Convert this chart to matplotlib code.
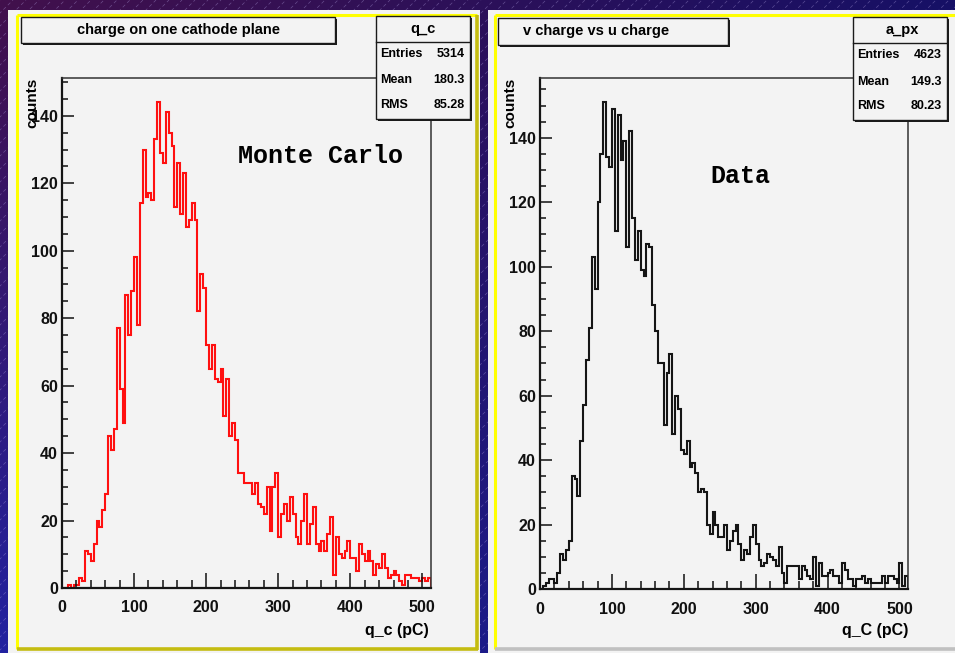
import matplotlib
matplotlib.use("Agg")
import matplotlib.pyplot as plt
import matplotlib.colors as mcolors
import numpy as np
from matplotlib.patches import Rectangle

# ---- values (128 bins over 0-512 pC) ----
bin_edges = np.linspace(0, 512, 129)

mc_counts = [0, 0, 1, 0, 1, 1, 3, 2, 11, 10,
             8, 13, 20, 18, 23, 28, 45, 41, 47, 77,
             59, 49, 87, 75, 88, 98, 78, 114, 130, 116,
             117, 115, 133, 144, 129, 126, 141, 135, 131, 113,
             126, 111, 123, 107, 109, 114, 109, 82, 93, 89,
             72, 65, 72, 62, 61, 65, 51, 62, 45, 49,
             44, 34, 34, 31, 31, 31, 28, 31, 25, 24,
             22, 30, 17, 30, 34, 15, 22, 25, 20, 27,
             22, 15, 13, 20, 28, 13, 19, 24, 13, 11,
             14, 11, 16, 21, 4, 15, 10, 9, 11, 14,
             9, 9, 5, 13, 10, 8, 11, 8, 4, 7,
             6, 10, 6, 3, 4, 5, 4, 2, 1, 4,
             4, 3, 3, 3, 2, 3, 2, 3]

data_counts = [0, 1, 2, 3, 3, 2, 5, 11, 9, 12,
               15, 35, 34, 29, 46, 57, 71, 81, 103, 93,
               120, 135, 151, 134, 131, 149, 111, 147, 133, 139,
               106, 142, 115, 102, 111, 99, 97, 107, 106, 88,
               80, 70, 70, 51, 67, 73, 48, 60, 56, 43,
               42, 46, 38, 39, 36, 30, 31, 30, 20, 17,
               24, 20, 16, 16, 20, 12, 15, 18, 20, 14,
               9, 12, 11, 16, 20, 14, 9, 7, 8, 11,
               10, 9, 7, 13, 5, 2, 7, 7, 7, 7,
               3, 7, 6, 4, 3, 10, 1, 8, 4, 4,
               5, 6, 4, 4, 2, 8, 6, 3, 3, 1,
               3, 3, 4, 2, 3, 2, 2, 2, 2, 4,
               2, 4, 4, 3, 2, 8, 1, 4]

x_ticks = [0, 100, 200, 300, 400, 500]
y_ticks = [0, 20, 40, 60, 80, 100, 120, 140]

titles = ["charge on one cathode plane", "v charge vs u charge"]
hist_names = ["q_c", "a_px"]
stat_labels = ["Entries", "Mean", "RMS"]
mc_stats = ["5314", "180.3", "85.28"]
data_stats = ["4623", "149.3", "80.23"]
x_labels = ["q_c (pC)", "q_C (pC)"]
tags = ["Monte Carlo", "Data"]

plt.rcParams['font.family'] = ['Liberation Sans', 'DejaVu Sans']
plt.rcParams['font.weight'] = 'bold'

W, H = 955, 653
fig = plt.figure(figsize=(W / 100, H / 100), dpi=100)
panel_fill = '#f3f3f3'

# background: gradient + diagonal hatch
bg = fig.add_axes([0, 0, 1, 1])
corners = [mcolors.to_rgb(c) for c in ['#42104c', '#161066', '#2222a0', '#151472']]
u = np.linspace(0, 1, 200)[None, :, None]
v = np.linspace(0, 1, 140)[:, None, None]
grad = (np.array(corners[0]) * (1 - u) * (1 - v) + np.array(corners[1]) * u * (1 - v)
        + np.array(corners[2]) * (1 - u) * v + np.array(corners[3]) * u * v)
bg.imshow(grad, extent=[0, W, H, 0], aspect='auto', interpolation='bilinear', zorder=0)
for c in np.arange(-H, W, 13):
    bg.plot([c, c + H], [H, 0], color='#b8a8e8', lw=0.5, alpha=0.4, dashes=(5, 4), zorder=1)
bg.set_xlim(0, W)
bg.set_ylim(H, 0)
bg.axis('off')

# left pad
bg.add_patch(Rectangle((8, 10), 472, 650, fc=panel_fill, ec='none', zorder=3))
bg.plot([17, 17], [649, 15], color='#ffff00', lw=2.2, solid_capstyle='butt', zorder=4)
bg.plot([17, 477], [15, 15], color='#ffff00', lw=2.2, solid_capstyle='butt', zorder=4)
bg.plot([477, 477], [15, 650], color='#c4bc10', lw=2.6, solid_capstyle='butt', zorder=4)
bg.plot([17, 478], [649, 649], color='#c4bc10', lw=2.6, solid_capstyle='butt', zorder=4)
# right pad
bg.add_patch(Rectangle((488, 10), 470, 650, fc=panel_fill, ec='none', zorder=3))
bg.plot([495, 495], [649, 15], color='#ffff00', lw=2.2, solid_capstyle='butt', zorder=4)
bg.plot([495, 955], [15, 15], color='#ffff00', lw=2.2, solid_capstyle='butt', zorder=4)
bg.plot([495, 955], [649, 649], color='#c0c0c0', lw=2.6, solid_capstyle='butt', zorder=4)


def hist_panel(rect, counts, color):
    ax = fig.add_axes(rect)
    ax.set_facecolor('none')
    ax.stairs(counts, bin_edges, color=color, lw=1.5)
    ymax = 1.05 * max(counts)
    ax.set_xlim(0, 512)
    ax.set_ylim(0, ymax)
    ax.set_xticks(x_ticks)
    ax.set_xticks(np.arange(0, 512, 20), minor=True)
    ax.set_yticks(y_ticks)
    ax.set_yticks(np.arange(0, ymax, 5), minor=True)
    ax.tick_params(axis='x', which='major', direction='in', length=10.5, width=1.1,
                   pad=9, labelsize=11.5, colors='#111111')
    ax.tick_params(axis='x', which='minor', direction='in', length=5.5, width=1.1, colors='#111111')
    ax.tick_params(axis='y', which='major', direction='in', length=8.5, width=1.1,
                   pad=3, labelsize=11.5, colors='#111111')
    ax.tick_params(axis='y', which='minor', direction='in', length=4.3, width=1.1, colors='#111111')
    for side in ['left', 'bottom']:
        ax.spines[side].set_linewidth(1.6)
        ax.spines[side].set_color('#151515')
    for side in ['top', 'right']:
        ax.spines[side].set_linewidth(1.1)
        ax.spines[side].set_color('#333333')
    return ax


hist_panel([62 / W, 1 - 588 / H, 369 / W, 510 / H], mc_counts, '#ff1010')
hist_panel([540 / W, 1 - 589 / H, 368 / W, 511 / H], data_counts, '#151515')

# overlay: title boxes, stats boxes, labels
ov = fig.add_axes([0, 0, 1, 1])
ov.set_xlim(0, W)
ov.set_ylim(H, 0)
ov.axis('off')
ov.patch.set_alpha(0)


def shadow_box(x0, y0, x1, y1):
    ov.add_patch(Rectangle((x0 + 2, y0 + 2), x1 - x0, y1 - y0, fc='#1a1a1a', ec='none'))
    ov.add_patch(Rectangle((x0, y0), x1 - x0, y1 - y0, fc=panel_fill, ec='#1a1a1a', lw=1.0))


# left pad texts
shadow_box(21, 17, 335, 43)
ov.text(178, 30, titles[0], ha='center', va='center', fontsize=10.5)
shadow_box(376, 16, 470, 119)
ov.plot([376, 470], [42, 42], color='#1a1a1a', lw=1.0)
ov.text(423, 29, hist_names[0], ha='center', va='center', fontsize=10.5)
for lab, val, yy in zip(stat_labels, mc_stats, [54, 80, 105]):
    ov.text(380, yy, lab, ha='left', va='center', fontsize=9)
    ov.text(465, yy, val, ha='right', va='center', fontsize=9)
ov.text(32, 78, 'counts', rotation=90, ha='center', va='top', fontsize=11)
ov.text(429, 631, x_labels[0], ha='right', va='center', fontsize=11.5)
ov.text(320, 156, tags[0], ha='center', va='center', fontsize=18,
        family='Liberation Mono', fontweight='bold')

# right pad texts
shadow_box(498, 18, 728, 45)
ov.text(596, 31, titles[1], ha='center', va='center', fontsize=10.5)
shadow_box(853, 17, 947, 120)
ov.plot([853, 947], [43, 43], color='#1a1a1a', lw=1.0)
ov.text(902, 30, hist_names[1], ha='center', va='center', fontsize=10.5)
for lab, val, yy in zip(stat_labels, data_stats, [55, 82, 106]):
    ov.text(857, yy, lab, ha='left', va='center', fontsize=9)
    ov.text(942, yy, val, ha='right', va='center', fontsize=9)
ov.text(510, 78, 'counts', rotation=90, ha='center', va='top', fontsize=11)
ov.text(908, 631, x_labels[1], ha='right', va='center', fontsize=11.5)
ov.text(740, 176, tags[1], ha='center', va='center', fontsize=18,
        family='Liberation Mono', fontweight='bold')

fig.savefig('out.png', dpi=100)
